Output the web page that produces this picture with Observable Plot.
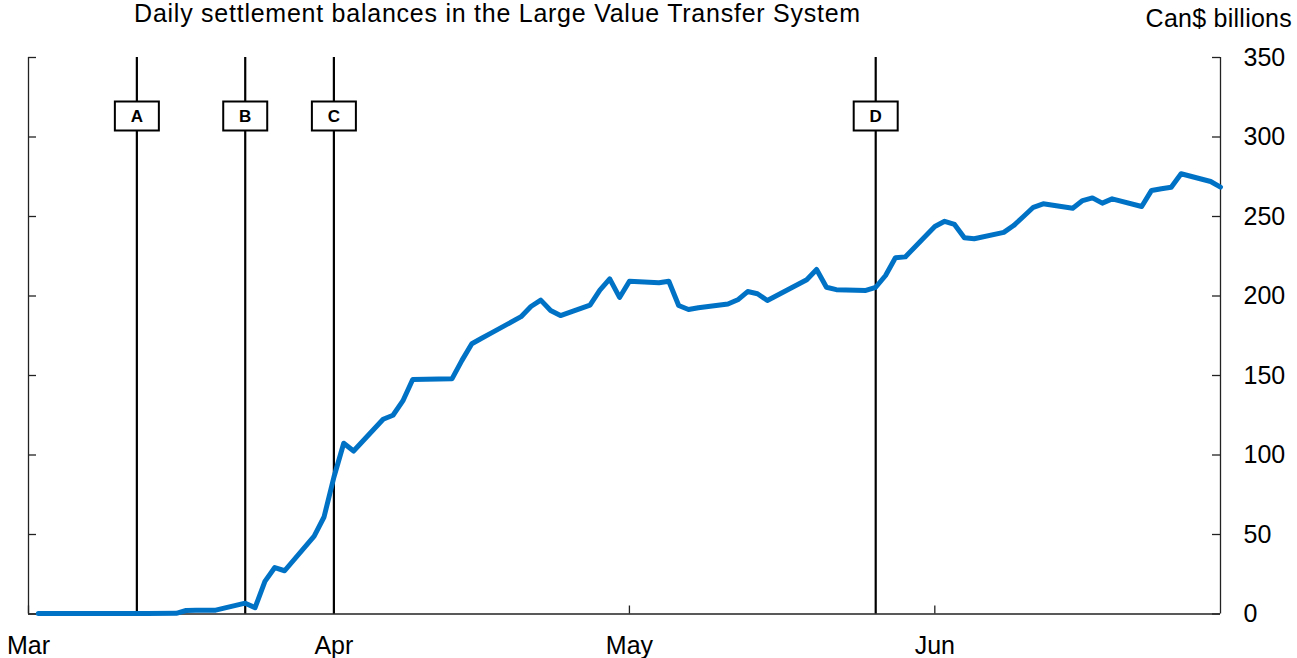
<!DOCTYPE html>
<html>
<head>
<meta charset="utf-8">
<script src="https://cdn.jsdelivr.net/npm/d3@7"></script>
<script src="https://cdn.jsdelivr.net/npm/@observablehq/plot@0.6"></script>
<style>
  html, body { margin: 0; padding: 0; background: white; }
  #wrap { position: relative; width: 1297px; height: 658px; font-family: "Liberation Sans", Arial, sans-serif; color: #000; }
  #title { position: absolute; left: 0; width: 995px; top: 0.5px; text-align: center; font-size: 25px; line-height: 25px; letter-spacing: 0.75px; white-space: nowrap; }
  #units { position: absolute; right: 5px; top: 5.5px; font-size: 25px; line-height: 25px; letter-spacing: 0.25px; white-space: nowrap; }
  #chart { position: absolute; left: 0; top: 0; }
  #chart svg g.evlabel text { font-size: 17px; font-weight: bold; }
</style>
</head>
<body>
<div id="wrap">
  <div id="chart"></div>
  <div id="title">Daily settlement balances in the Large Value Transfer System</div>
  <div id="units">Can$ billions</div>
</div>
<script>
// ---- data ----
const dates = [
  "2020-03-02","2020-03-03","2020-03-04","2020-03-05","2020-03-06",
  "2020-03-09","2020-03-10","2020-03-11","2020-03-12","2020-03-13",
  "2020-03-16","2020-03-17","2020-03-18","2020-03-19","2020-03-20",
  "2020-03-23","2020-03-24","2020-03-25","2020-03-26","2020-03-27",
  "2020-03-30","2020-03-31","2020-04-01","2020-04-02","2020-04-03",
  "2020-04-06","2020-04-07","2020-04-08","2020-04-09",
  "2020-04-13","2020-04-14","2020-04-15","2020-04-16","2020-04-17",
  "2020-04-20","2020-04-21","2020-04-22","2020-04-23","2020-04-24",
  "2020-04-27","2020-04-28","2020-04-29","2020-04-30","2020-05-01",
  "2020-05-04","2020-05-05","2020-05-06","2020-05-07","2020-05-08",
  "2020-05-11","2020-05-12","2020-05-13","2020-05-14","2020-05-15",
  "2020-05-19","2020-05-20","2020-05-21","2020-05-22",
  "2020-05-25","2020-05-26","2020-05-27","2020-05-28","2020-05-29",
  "2020-06-01","2020-06-02","2020-06-03","2020-06-04","2020-06-05",
  "2020-06-08","2020-06-09","2020-06-10","2020-06-11","2020-06-12",
  "2020-06-15","2020-06-16","2020-06-17","2020-06-18","2020-06-19",
  "2020-06-22","2020-06-23","2020-06-24","2020-06-25","2020-06-26",
  "2020-06-29","2020-06-30"
];
const balances = [
  0.3,0.3,0.3,0.3,0.3,
  0.3,0.3,0.3,0.3,0.3,
  0.4,2.2,2.3,2.3,2.4,
  6.8,4.0,20.5,29.2,27.2,
  49,61,86,107.4,102.5,
  122.5,125,134,147.5,
  148,159.5,170,173.4,176.8,
  187,193.4,197.4,190.9,187.7,
  194.3,203.7,210.8,199.1,209.3,
  208.3,209.3,194,191.5,192.6,
  195,197.6,202.8,201.4,197.2,
  210.2,216.7,205.5,204,
  203.5,205.5,212.9,224,224.6,
  243.7,247,245,236.6,236,
  240,244.3,250,255.8,258,
  255.2,260,261.7,258.4,261.1,
  256.3,266.4,267.5,268.4,276.9,
  272,268.5
];
const eventDates = ["2020-03-12","2020-03-23","2020-04-01","2020-05-26"];
const eventLabels = ["A","B","C","D"];
const yTicks = [0,50,100,150,200,250,300,350];
const monthTicks = ["2020-03-01","2020-04-01","2020-05-01","2020-06-01"];
const xStart = "2020-03-01", xEnd = "2020-06-30";

// ---- build tables ----
const parse = d3.utcParse("%Y-%m-%d");
const series = dates.map((d, i) => ({date: parse(d), value: balances[i]}));
const events = eventDates.map((d, i) => ({date: parse(d), label: eventLabels[i]}));
const months = monthTicks.map(parse);
const x0 = parse(xStart), x1 = parse(xEnd);

const W = 1297, H = 658, mT = 57, mB = 44.5, mL = 28, mR = 77;
const innerW = W - mL - mR, innerH = H - mT - mB;
const tick = 8;

const boxSymbol = { draw(ctx) { ctx.rect(-22, -14.5, 44, 29); } };

const chart = Plot.plot({
  width: W, height: H,
  marginTop: mT, marginBottom: mB, marginLeft: mL, marginRight: mR,
  x: {type: "utc", domain: [x0, x1]},
  y: {domain: [0, 350]},
  style: {fontFamily: "'Liberation Sans', Arial, sans-serif", fontSize: "25px", color: "#000", background: "white"},
  marks: [
    Plot.ruleY([0], {stroke: "#222", strokeWidth: 1.3}),
    Plot.ruleX([x0, x1], {stroke: "#222", strokeWidth: 1.3}),
    Plot.ruleY(yTicks, {stroke: "#222", strokeWidth: 1.3, insetLeft: innerW - tick}),
    Plot.ruleY(yTicks, {stroke: "#222", strokeWidth: 1.3, insetRight: innerW - tick}),
    Plot.ruleX(months, {stroke: "#222", strokeWidth: 1.3, insetTop: innerH - tick}),
    Plot.axisY({anchor: "right", ticks: yTicks, tickSize: 0, tickPadding: 23, label: null, fontSize: 25}),
    Plot.axisX({ticks: months, tickSize: 0, tickPadding: 22, tickFormat: d3.utcFormat("%b"), label: null, fontSize: 25}),
    Plot.ruleX(events, {x: "date", stroke: "#000", strokeWidth: 2.2}),
    Plot.line(series, {x: "date", y: "value", stroke: "#0072c6", strokeWidth: 5, strokeLinejoin: "round"}),
    Plot.dot(events, {x: "date", frameAnchor: "top", dy: 58.5, symbol: boxSymbol, fill: "white", stroke: "#000", strokeWidth: 2}),
    Plot.text(events, {x: "date", text: "label", frameAnchor: "top", lineAnchor: "middle", dy: 59, fontWeight: "bold", fontSize: 17, fill: "#000", className: "evlabel"})
  ]
});
document.getElementById("chart").appendChild(chart);
</script>
</body>
</html>
